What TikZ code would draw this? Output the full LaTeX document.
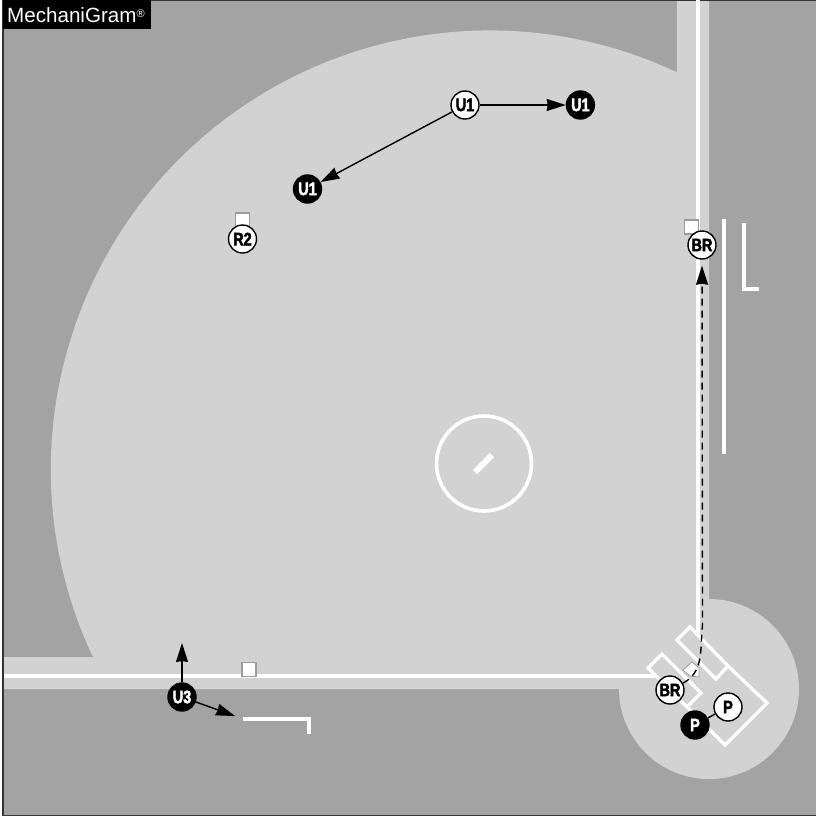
\documentclass[tikz,border=0pt]{standalone}
\usepackage{fontspec}
\setmainfont{Liberation Sans}
\newfontfamily\ballfont[FakeStretch=0.8,FakeBold=2.6]{Liberation Sans Bold}
\usepackage{xcolor}
\definecolor{turfdark}{RGB}{163,163,163}
\definecolor{turflight}{RGB}{210,210,210}
\definecolor{basegray}{RGB}{155,155,155}
\usetikzlibrary{arrows.meta,positioning}
\tikzset{
  ump_old/.style={circle,draw=black,fill=white,line width=1.4pt,
    minimum size=28pt,inner sep=0pt,
    font=\ballfont\fontsize{18}{18}\selectfont},
  ump_new/.style={circle,draw=black,fill=black,text=white,line width=1.4pt,
    minimum size=28pt,inner sep=0pt,
    font=\ballfont\fontsize{18}{18}\selectfont},
  base_sq/.style={rectangle,draw=basegray,fill=white,line width=1.4pt,
    minimum size=14pt,inner sep=0pt},
  chalk/.style={draw=white,line width=3.3pt},
  arr/.style={-{Stealth[length=19pt,width=12pt,inset=1pt]},line width=1.4pt,draw=black},
  logo/.style={rectangle,fill=black,text=white,anchor=north west,
    text width=140pt,inner xsep=4pt,inner ysep=0pt,minimum height=29pt,
    font=\fontsize{20.6}{20.6}\selectfont},
}
\begin{document}
\begin{tikzpicture}[x=1pt,y=-1pt]
  \useasboundingbox (0,0) rectangle (816,817);
  % ground
  \fill[white] (0,0) rectangle (816,817);
  \fill[turfdark] (2.5,0) rectangle (816,815.5);
  \fill[turflight] (3,657) -- (93,657) arc[start angle=154.7,end angle=295.2,radius=439]
    -- (677,0) -- (709,0) -- (709,689) -- (3,689) -- cycle;
  \fill[turflight] (709,689) circle (90);
  % frame
  \draw[black!80,line width=1.3pt] (3,815.5) -- (3,0.6) -- (816,0.6);
  \draw[black!80,line width=1.3pt] (3,815.5) -- (816,815.5);
  % foul lines and boxes
  \draw[chalk,line width=4pt] (698,0) -- (698,634);
  \draw[chalk,line width=4pt] (4,676) -- (655,676);
  \draw[chalk] (728,666) -- (690,627) -- (677,640) -- (716,679) -- (728,666)
    -- (767,703) -- (725,745) -- (648,668) -- (662,654) -- (701,693) -- (687,707);
  \draw[chalk] (724,219) -- (724,454);
  \draw[chalk,line width=3.6pt] (744,223) -- (744,289) -- (759,289);
  \draw[chalk,line width=3.6pt] (243,719) -- (309,719) -- (309,734);
  % mound
  \draw[chalk,line width=3.6pt] (484,463.5) circle (47.5);
  \draw[draw=white,line width=6pt] (475,472) -- (492,455);
  % bases
  \node (second) [base_sq] at (242.5,220) {};
  \node (first) [base_sq] at (691.5,227) {};
  \node (third) [base_sq] at (249,669.5) {};
  \fill[white,draw=basegray,line width=0.8pt] (683,670) -- (692,662) -- (699,668)
    -- (699,677) -- (690,676) -- cycle;
  % umpires
  \node (u1a) [ump_old] at (465,105) {U1};
  \node (u1b) [ump_new, right=86pt of u1a] {U1};
  \node (u1c) [ump_new] at (307.5,189) {U1};
  \node (r2) [ump_old] at (242.5,239) {R2};
  \node (bra) [ump_old] at (702,245) {BR};
  \node (brb) [ump_old] at (670,690) {BR};
  \node (pa) [ump_old] at (728,707) {P};
  \node (pb) [ump_new] at (695,725) {P};
  \node (u3) [ump_new] at (182,697) {U3};
  \coordinate (u3up) at (182,643);
  \coordinate (u3run) at (235,716);
  % moves
  \draw[arr] (u1a) -- (u1b);
  \draw[arr] (u1a) -- (u1c);
  \draw[arr] (u3) -- (u3up);
  \draw[arr] (u3) -- (u3run);
  \draw[line width=1.4pt] (pb) -- (pa);
  \draw[arr,dash pattern=on 7pt off 5pt,shorten >=6pt] (brb) .. controls (704,672) and (700,650)
    .. (702.5,625) -- (bra);
  % logo
  \node (mark) [logo] at (3,0) {MechaniGram\raisebox{5pt}{\fontsize{11}{11}\selectfont®}};
\end{tikzpicture}
\end{document}
